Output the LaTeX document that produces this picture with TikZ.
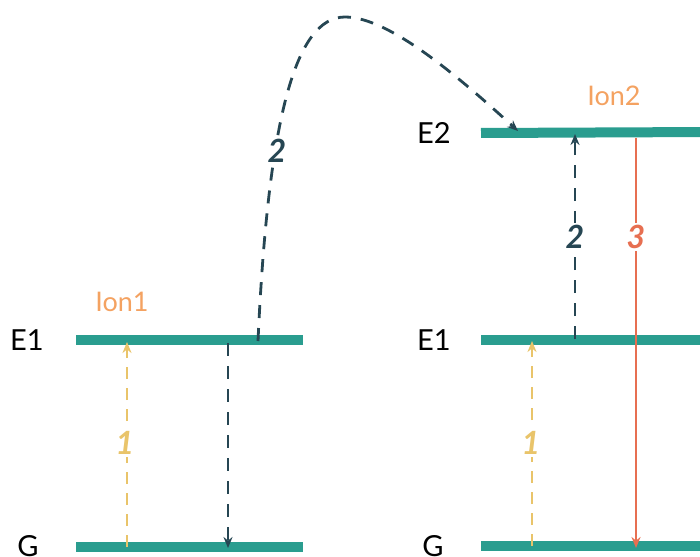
\documentclass[tikz,border=0pt]{standalone}
\usepackage{fontspec}
\setmainfont{Lato}
\usetikzlibrary{arrows.meta}
\definecolor{teal}{RGB}{42,157,143}
\definecolor{slate}{RGB}{38,70,83}
\definecolor{sand}{RGB}{233,196,106}
\definecolor{peach}{RGB}{244,162,97}
\definecolor{coral}{RGB}{231,111,81}
\tikzset{
  level/.style={line width=10pt, teal},
  lvllabel/.style={font=\fontsize{29}{32}\selectfont, text=black, inner sep=0pt},
  ionlabel/.style={font=\fontsize{27}{30}\selectfont, text=peach, inner sep=0pt},
  numlabel/.style={font=\fontsize{32}{34}\selectfont\bfseries\itshape, fill=white, inner sep=2pt},
  dashdark/.style={slate, line width=2.8pt, dash pattern=on 13pt off 10pt, -{Stealth[length=11pt,width=9pt]}},
  dashyel/.style={sand, line width=2.6pt, dash pattern=on 12pt off 9pt, -{Stealth[length=11pt,width=9pt]}},
  solidred/.style={coral, line width=2.4pt, -{Stealth[length=11pt,width=9pt]}}
}
\begin{document}
\begin{tikzpicture}[x=1pt,y=-1pt]
\useasboundingbox (0,0) rectangle (700,556);
\clip (0,0) rectangle (700,556);
% levels
\coordinate (l1a) at (76,340); \coordinate (l1b) at (303,340);
\coordinate (lga) at (76,547); \coordinate (lgb) at (303,547);
\coordinate (r2a) at (481,133); \coordinate (r2b) at (710,132);
\coordinate (r1a) at (481,340); \coordinate (r1b) at (710,340);
\coordinate (rga) at (481,546); \coordinate (rgb) at (710,546);
\draw[level] (l1a) -- (l1b);
\draw[level] (lga) -- (lgb);
\draw[level] (r2a) -- (r2b);
\draw[level] (r1a) -- (r1b);
\draw[level] (rga) -- (rgb);
% labels
\node[lvllabel] (tE1l) at (27,340) {E1};
\node[lvllabel] (tGl) at (28,546) {G};
\node[lvllabel] (tE2r) at (434,133) {E2};
\node[lvllabel] (tE1r) at (434,340) {E1};
\node[lvllabel] (tGr) at (433,546) {G};
\node[ionlabel] (ion1) at (122,302) {Ion1};
\node[ionlabel] (ion2) at (614,96) {Ion2};
% ion1 transitions
\coordinate (ya0) at (127,547); \coordinate (ya1) at (127,342);
\draw[dashyel] (ya0) -- (ya1);
\node[numlabel, text=sand] (n1l) at (125,443) {1};
\coordinate (da0) at (228,343); \coordinate (da1) at (228,548);
\draw[dashdark] (da0) -- (da1);
% transfer curve
\coordinate (c0) at (258,341); \coordinate (cp) at (345,17); \coordinate (c1) at (518,131);
\draw[dashdark] (c0) .. controls (268,120) and (295,17) .. (cp) .. controls (390,17) and (462,80) .. (c1);
\node[numlabel, text=slate] (n2l) at (277,151) {2};
% ion2 transitions
\coordinate (yb0) at (532,546); \coordinate (yb1) at (532,341);
\draw[dashyel] (yb0) -- (yb1);
\node[numlabel, text=sand] (n1r) at (531,443) {1};
\coordinate (db0) at (575,339); \coordinate (db1) at (575,134);
\draw[dashdark] (db0) -- (db1);
\node[numlabel, text=slate] (n2r) at (575,237) {2};
\coordinate (rb0) at (636,138); \coordinate (rb1) at (636,548);
\draw[solidred] (rb0) -- (rb1);
\node[numlabel, text=coral] (n3r) at (636,237) {3};
\end{tikzpicture}
\end{document}
